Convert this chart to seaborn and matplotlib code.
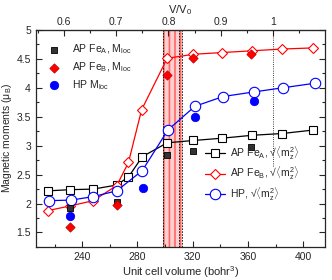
import matplotlib
matplotlib.use('Agg')
import matplotlib.pyplot as plt
import seaborn as sns
import pandas as pd
from matplotlib.ticker import MultipleLocator, FormatStrFormatter

V0 = 378.0

# sqrt(<m_z^2>) curves
vol_apa = [215.5, 231.5, 248, 265, 273.5, 283.5, 301.5, 320.5, 341.5, 363, 384.5, 407]
mz_apa = [2.22, 2.24, 2.25, 2.32, 2.46, 2.81, 3.05, 3.09, 3.13, 3.18, 3.21, 3.27]
vol_apb = [215.5, 231.5, 248, 265, 273.5, 283, 301.5, 320.5, 341.5, 363, 384.5, 407]
mz_apb = [1.88, 1.96, 2.05, 2.31, 2.71, 3.62, 4.51, 4.58, 4.61, 4.64, 4.67, 4.69]
vol_hp = [216, 232, 248, 265, 283.5, 302, 321.5, 342, 364.5, 385, 408.5]
mz_hp = [2.05, 2.06, 2.12, 2.22, 2.57, 3.27, 3.68, 3.85, 3.93, 4.00, 4.08]

# local moments
vol_loc_a = [231, 265, 301.5, 320.5, 362.5]
mloc_a = [1.92, 2.03, 2.84, 2.90, 2.97]
vol_loc_b = [231, 265, 301.5, 320.5, 362.5]
mloc_b = [1.59, 1.98, 4.23, 4.51, 4.59]
vol_loc_hp = [231, 284, 321.5, 364.5]
mloc_hp = [1.78, 2.27, 3.49, 3.77]

sns.set_style('ticks')
plt.rcParams['font.family'] = ['Liberation Sans', 'DejaVu Sans']
plt.rcParams['mathtext.fontset'] = 'custom'
plt.rcParams['mathtext.rm'] = 'Liberation Sans'
plt.rcParams['mathtext.it'] = 'Liberation Sans:italic'
plt.rcParams['hatch.linewidth'] = 1.2

fig = plt.figure(figsize=(3.32, 2.8), dpi=100)
ax = fig.add_axes([0.108, 0.118, 0.871, 0.775])

# transition region
ax.axvspan(298.5, 312, facecolor='#ffd0d0', edgecolor='#ff6666', hatch='|||', lw=0, zorder=0)
for xv in [298.5, 310, 312]:
    ax.axvline(xv, color='black', ls='--', lw=0.6, dashes=(2, 1.5), zorder=1)
ax.axvline(V0, ymin=0.373, ymax=1, color='black', ls=':', lw=0.6, zorder=1)

lines = [
    (vol_apa, mz_apa, 'black', 's', 6.0, r'AP Fe$_\mathrm{A}$, √$\langle\mathrm{m_z^2}\rangle$'),
    (vol_apb, mz_apb, 'red', 'D', 5.5, r'AP Fe$_\mathrm{B}$, √$\langle\mathrm{m_z^2}\rangle$'),
    (vol_hp, mz_hp, 'blue', 'o', 7.5, r'HP, √$\langle\mathrm{m_z^2}\rangle$'),
]
line_handles = []
for v, m, c, mk, ms, lab in lines:
    df = pd.DataFrame({'vol': v, 'm': m})
    sns.lineplot(data=df, x='vol', y='m', ax=ax, color=c, marker=mk, markersize=ms,
                 markerfacecolor='white', markeredgecolor=c, markeredgewidth=0.8,
                 lw=0.9, label=lab, legend=False, zorder=3)
    line_handles.append(ax.lines[-1])

pts = [
    (vol_loc_a, mloc_a, '#333333', 'black', 's', 24, r'AP Fe$_\mathrm{A}$, M$_\mathrm{loc}$'),
    (vol_loc_b, mloc_b, 'red', '#cc0000', 'D', 22, r'AP Fe$_\mathrm{B}$, M$_\mathrm{loc}$'),
    (vol_loc_hp, mloc_hp, 'blue', 'blue', 'o', 36, r'HP M$_\mathrm{loc}$'),
]
pt_handles = []
for v, m, fc, ec, mk, s, lab in pts:
    df = pd.DataFrame({'vol': v, 'm': m})
    sns.scatterplot(data=df, x='vol', y='m', ax=ax, color=fc, edgecolor=ec, marker=mk,
                    s=s, linewidth=0.6, label=lab, legend=False, zorder=4)
    pt_handles.append(ax.collections[-1])

ax.set_xlim(206.5, 415.7)
ax.set_ylim(1.25, 5)
ax.xaxis.set_major_locator(MultipleLocator(40))
ax.xaxis.set_minor_locator(MultipleLocator(20))
ax.yaxis.set_major_locator(MultipleLocator(0.5))
ax.yaxis.set_minor_locator(MultipleLocator(0.25))
ax.yaxis.set_major_formatter(FormatStrFormatter('%g'))
ax.tick_params(which='both', direction='in', top=False, right=True, labelsize=7.5, width=0.8)
ax.tick_params(which='major', length=4)
ax.tick_params(which='minor', length=2.5)
ax.set_xlabel('Unit cell volume (bohr$^3$)', fontsize=8, labelpad=2)
ax.set_ylabel(r'Magnetic moments ($\mathrm{\mu_B}$)', fontsize=7.5)
ax.yaxis.set_label_coords(-0.074, 0.5)
for sp in ax.spines.values():
    sp.set_linewidth(0.9)

top = ax.secondary_xaxis('top', functions=(lambda v: v / V0, lambda r: r * V0))
top.xaxis.set_major_locator(MultipleLocator(0.1))
top.xaxis.set_minor_locator(MultipleLocator(0.05))
top.xaxis.set_major_formatter(FormatStrFormatter('%g'))
top.tick_params(which='both', direction='in', labelsize=7.5, width=0.8, pad=2)
top.tick_params(which='major', length=4)
top.tick_params(which='minor', length=2.5)
top.set_xlabel('V/V$_0$', fontsize=8, labelpad=3)

leg1 = ax.legend(handles=pt_handles, loc='upper left', bbox_to_anchor=(0.01, 0.975),
                 frameon=False, fontsize=7.5, handletextpad=1.0, labelspacing=0.4,
                 handlelength=1.5, borderaxespad=0.3)
ax.add_artist(leg1)
ax.legend(handles=line_handles, loc='lower right', bbox_to_anchor=(0.935, 0.17),
          frameon=False, fontsize=7.5, handletextpad=0.4, labelspacing=0.3,
          handlelength=2.0, borderaxespad=0.3)

fig.savefig('out.png', dpi=100)
